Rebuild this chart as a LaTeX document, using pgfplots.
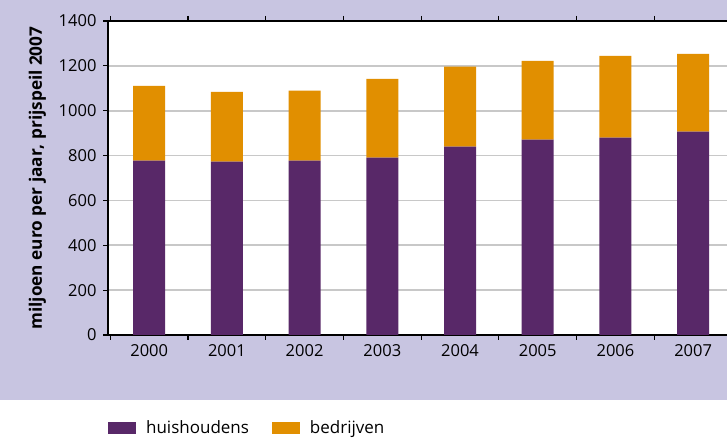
\documentclass[border=0pt]{standalone}
\usepackage{fontspec}
\setmainfont{Open Sans}
\usepackage{pgfplots}
\pgfplotsset{compat=1.18}
\definecolor{lavbg}{HTML}{C8C5E1}
\definecolor{huis}{HTML}{582868}
\definecolor{bedr}{HTML}{E18F00}
\definecolor{gridg}{HTML}{C8C8C8}

% values (miljoen euro, prijspeil 2007)
\pgfplotstableread{
x huis bedr
0 778 333
1 773 311
2 778 311
3 791 351
4 840 356
5 871 351
6 880 364
7 907 346
}\kosten

\begin{document}
\begin{tikzpicture}
\fill[lavbg] (0pt,38pt) rectangle (727pt,438pt);
\begin{scope}
\clip (0pt,0pt) rectangle (727pt,438pt);
\begin{axis}[
  at={(108pt,103pt)}, anchor=south west,
  scale only axis, width=624pt, height=314pt,
  axis background/.style={fill=white},
  ybar stacked, bar width=32pt,
  xmin=-0.53, xmax=7.5, ymin=0, ymax=1400,
  xtick={-0.5,0.5,...,7.5},
  x tick label as interval,
  xticklabels={2000,2001,2002,2003,2004,2005,2006,2007},
  ytick={0,200,...,1400},
  tick align=outside, major tick length=5pt,
  tick style={black, line width=1.2pt},
  axis line style={black, line width=1.4pt},
  ymajorgrids, grid style={gridg, line width=1.6pt},
  /pgf/number format/assume math mode=true,
  /pgf/number format/1000 sep={},
  tick label style={font=\fontsize{16.5}{19}\selectfont},
  xticklabel style={yshift=-1pt},
  yticklabel style={xshift=-3pt},
  ylabel={miljoen euro per jaar, prijspeil 2007},
  ylabel style={font=\fontsize{17.2}{20}\selectfont\bfseries,
    at={(axis description cs:-0.113,0.5)}, anchor=center},
  legend columns=2,
  legend style={at={(axis description cs:-0.005,-0.296)}, anchor=west,
    draw=none, fill=none, font=\fontsize{17}{20}\selectfont,
    /tikz/every even column/.append style={column sep=21pt}},
  legend image code/.code={\fill[#1] (0pt,-6pt) rectangle (28pt,6pt);
    \path (36pt,0pt);},
]
\addplot[fill=huis, draw=none] table[x=x, y=huis] {\kosten};
\addlegendentry{huishoudens}
\addplot[fill=bedr, draw=none] table[x=x, y=bedr] {\kosten};
\addlegendentry{bedrijven}
\end{axis}
\end{scope}
\pgfresetboundingbox
\useasboundingbox (0pt,0pt) rectangle (727pt,438pt);
\end{tikzpicture}
\end{document}
